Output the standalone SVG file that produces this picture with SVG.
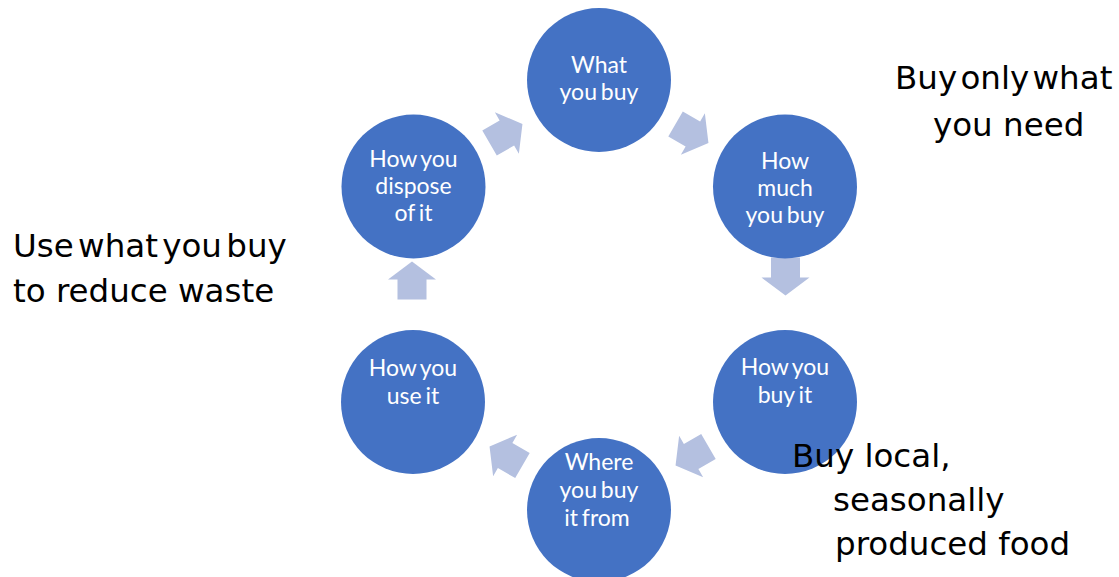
<svg xmlns="http://www.w3.org/2000/svg" width="1119" height="577" viewBox="0 0 1119 577">
<defs>
<style>
.node{fill:#4472C4;}
.arr{fill:#B4C0E0;}
.nt{font-family:Lato,"Open Sans",sans-serif;font-size:23px;fill:#FFFFFF;text-anchor:middle;word-spacing:-2px;}
.note{font-family:"DejaVu Sans",Verdana,sans-serif;font-size:32.5px;fill:#000000;}
</style>
<path id="blk" d="M -19,-14.5 H 1 V -24 L 19,0 L 1,24 V 14.5 H -19 Z"/>
</defs>
<rect width="1119" height="577" fill="#FFFFFF"/>
<g id="connectors">
<use href="#blk" class="arr" transform="translate(506,133.5) rotate(-30)"/>
<use href="#blk" class="arr" transform="translate(692,133.5) rotate(30)"/>
<use href="#blk" class="arr" transform="translate(785.5,276.5) rotate(90)"/>
<use href="#blk" class="arr" transform="translate(412,280.5) rotate(-90)"/>
<use href="#blk" class="arr" transform="translate(692,456) rotate(150)"/>
<use href="#blk" class="arr" transform="translate(506,456) rotate(210)"/>
</g>
<g id="what-you-buy">
<circle class="node" cx="599" cy="80" r="72"/>
<text class="nt" x="599" y="73">What</text>
<text class="nt" x="599" y="100">you buy</text>
</g>
<g id="how-much-you-buy">
<circle class="node" cx="785" cy="186.5" r="72"/>
<text class="nt" x="785" y="169">How</text>
<text class="nt" x="785" y="196">much</text>
<text class="nt" x="785" y="223">you buy</text>
</g>
<g id="how-you-buy-it">
<circle class="node" cx="785" cy="402" r="72"/>
<text class="nt" x="785" y="375">How you</text>
<text class="nt" x="785" y="403">buy it</text>
</g>
<g id="where-you-buy-it-from">
<circle class="node" cx="599" cy="510" r="72"/>
<text class="nt" x="599" y="470">Where</text>
<text class="nt" x="599" y="498">you buy</text>
<text class="nt" x="597" y="526">it from</text>
</g>
<g id="how-you-use-it">
<circle class="node" cx="413" cy="402" r="72"/>
<text class="nt" x="413" y="376">How you</text>
<text class="nt" x="413" y="404">use it</text>
</g>
<g id="how-you-dispose-of-it">
<circle class="node" cx="413.5" cy="186.5" r="72"/>
<text class="nt" x="413.5" y="167">How you</text>
<text class="nt" x="413.5" y="194">dispose</text>
<text class="nt" x="413.5" y="221">of it</text>
</g>
<g id="notes">
<text class="note" x="895" y="89" style="word-spacing:-7px">Buy only what</text>
<text class="note" x="933" y="136">you need</text>
<text class="note" x="13" y="257" style="word-spacing:-6px">Use what you buy</text>
<text class="note" x="13" y="302">to reduce waste</text>
<text class="note" x="792" y="467">Buy local,</text>
<text class="note" x="833" y="511">seasonally</text>
<text class="note" x="835" y="555">produced food</text>
</g>
</svg>
